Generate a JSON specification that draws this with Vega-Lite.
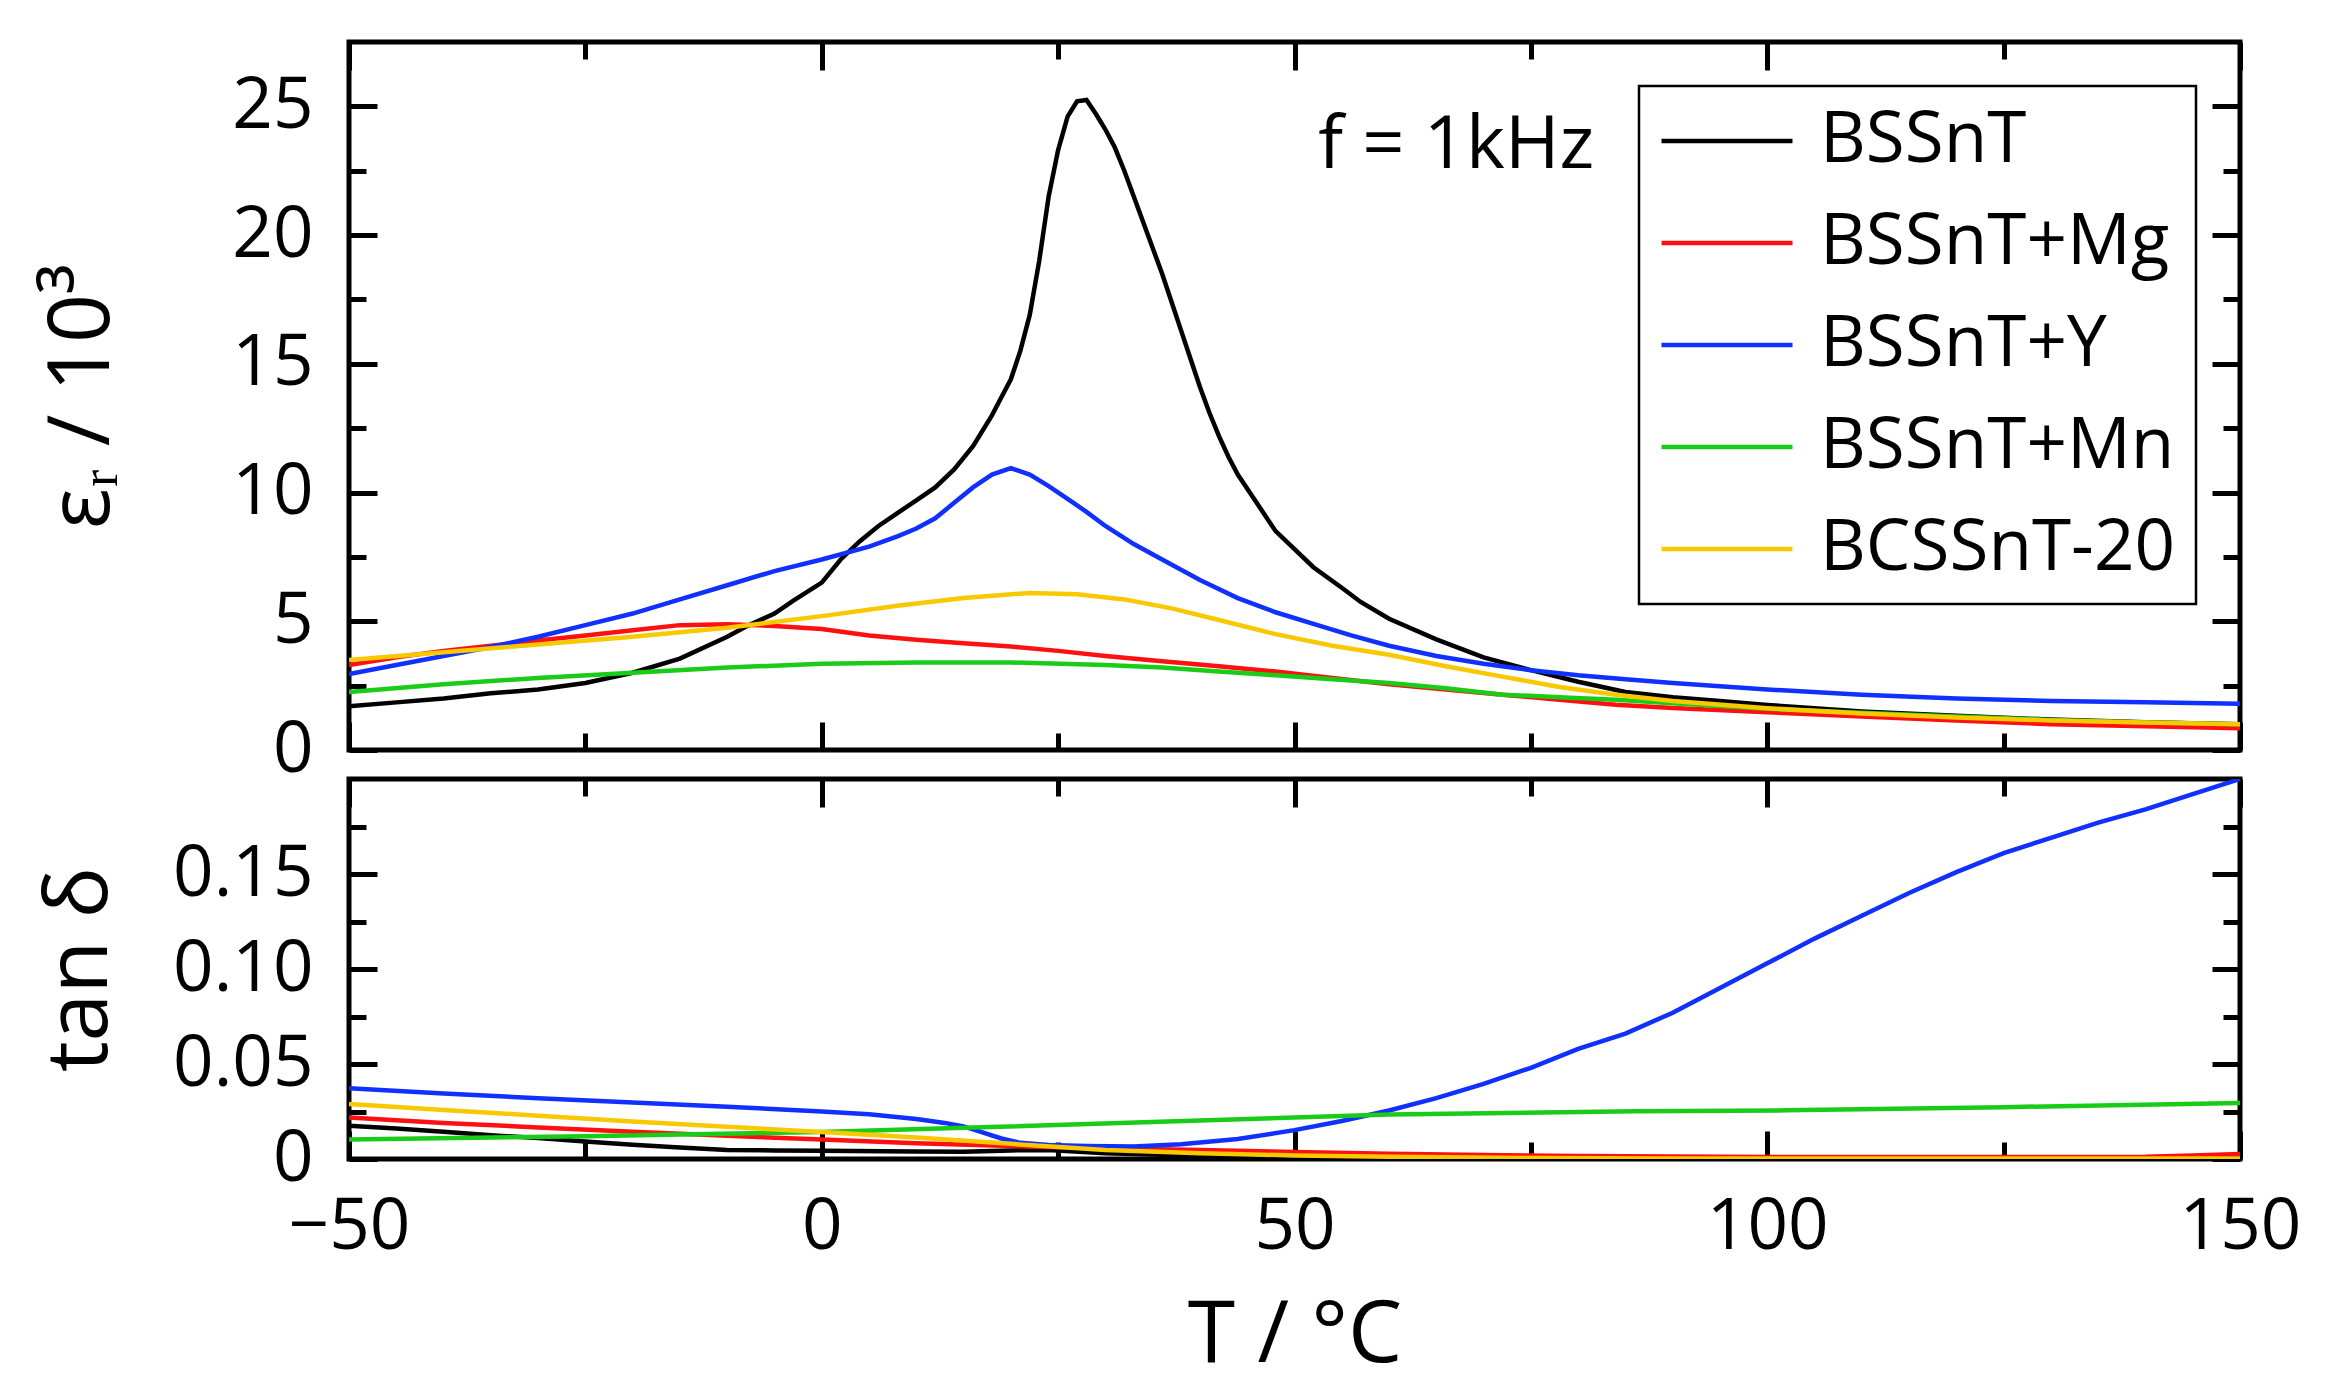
{
  "$schema": "https://vega.github.io/schema/vega-lite/v6.json",
  "autosize": {"type": "none"},
  "padding": {"left": 349, "top": 42, "right": 1986, "bottom": 1355},
  "datasets": {
    "eps": [
      {"T": -50, "series": "BSSnT", "v": 1.7}, {"T": -45, "series": "BSSnT", "v": 1.85}, {"T": -40, "series": "BSSnT", "v": 2.0},
      {"T": -35, "series": "BSSnT", "v": 2.2}, {"T": -30, "series": "BSSnT", "v": 2.35}, {"T": -25, "series": "BSSnT", "v": 2.6},
      {"T": -20, "series": "BSSnT", "v": 3.0}, {"T": -15, "series": "BSSnT", "v": 3.55}, {"T": -10, "series": "BSSnT", "v": 4.4},
      {"T": -8, "series": "BSSnT", "v": 4.8}, {"T": -5, "series": "BSSnT", "v": 5.3}, {"T": -3, "series": "BSSnT", "v": 5.8},
      {"T": 0, "series": "BSSnT", "v": 6.5}, {"T": 2, "series": "BSSnT", "v": 7.4}, {"T": 4, "series": "BSSnT", "v": 8.1},
      {"T": 6, "series": "BSSnT", "v": 8.7}, {"T": 8, "series": "BSSnT", "v": 9.2}, {"T": 10, "series": "BSSnT", "v": 9.7},
      {"T": 12, "series": "BSSnT", "v": 10.2}, {"T": 14, "series": "BSSnT", "v": 10.9}, {"T": 16, "series": "BSSnT", "v": 11.8},
      {"T": 18, "series": "BSSnT", "v": 13.0}, {"T": 19, "series": "BSSnT", "v": 13.7}, {"T": 20, "series": "BSSnT", "v": 14.4},
      {"T": 21, "series": "BSSnT", "v": 15.5}, {"T": 22, "series": "BSSnT", "v": 16.9}, {"T": 23, "series": "BSSnT", "v": 19.0},
      {"T": 24, "series": "BSSnT", "v": 21.5}, {"T": 25, "series": "BSSnT", "v": 23.3}, {"T": 26, "series": "BSSnT", "v": 24.6},
      {"T": 27, "series": "BSSnT", "v": 25.2}, {"T": 28, "series": "BSSnT", "v": 25.25}, {"T": 29, "series": "BSSnT", "v": 24.7},
      {"T": 30, "series": "BSSnT", "v": 24.1}, {"T": 31, "series": "BSSnT", "v": 23.4}, {"T": 32, "series": "BSSnT", "v": 22.5},
      {"T": 33, "series": "BSSnT", "v": 21.5}, {"T": 34, "series": "BSSnT", "v": 20.5}, {"T": 35, "series": "BSSnT", "v": 19.5},
      {"T": 36, "series": "BSSnT", "v": 18.5}, {"T": 37, "series": "BSSnT", "v": 17.4}, {"T": 38, "series": "BSSnT", "v": 16.3},
      {"T": 39, "series": "BSSnT", "v": 15.2}, {"T": 40, "series": "BSSnT", "v": 14.1}, {"T": 41, "series": "BSSnT", "v": 13.1},
      {"T": 42, "series": "BSSnT", "v": 12.2}, {"T": 43, "series": "BSSnT", "v": 11.4}, {"T": 44, "series": "BSSnT", "v": 10.7},
      {"T": 46, "series": "BSSnT", "v": 9.6}, {"T": 48, "series": "BSSnT", "v": 8.5}, {"T": 50, "series": "BSSnT", "v": 7.8},
      {"T": 52, "series": "BSSnT", "v": 7.1}, {"T": 55, "series": "BSSnT", "v": 6.3}, {"T": 57, "series": "BSSnT", "v": 5.75},
      {"T": 60, "series": "BSSnT", "v": 5.1}, {"T": 65, "series": "BSSnT", "v": 4.3}, {"T": 70, "series": "BSSnT", "v": 3.6},
      {"T": 75, "series": "BSSnT", "v": 3.1}, {"T": 80, "series": "BSSnT", "v": 2.65}, {"T": 85, "series": "BSSnT", "v": 2.25},
      {"T": 90, "series": "BSSnT", "v": 2.05}, {"T": 95, "series": "BSSnT", "v": 1.9}, {"T": 100, "series": "BSSnT", "v": 1.75},
      {"T": 110, "series": "BSSnT", "v": 1.5}, {"T": 120, "series": "BSSnT", "v": 1.33}, {"T": 130, "series": "BSSnT", "v": 1.18},
      {"T": 140, "series": "BSSnT", "v": 1.08}, {"T": 150, "series": "BSSnT", "v": 1.0},

      {"T": -50, "series": "BSSnT+Mg", "v": 3.3}, {"T": -45, "series": "BSSnT+Mg", "v": 3.6}, {"T": -40, "series": "BSSnT+Mg", "v": 3.85},
      {"T": -35, "series": "BSSnT+Mg", "v": 4.05}, {"T": -30, "series": "BSSnT+Mg", "v": 4.25}, {"T": -25, "series": "BSSnT+Mg", "v": 4.45},
      {"T": -20, "series": "BSSnT+Mg", "v": 4.65}, {"T": -15, "series": "BSSnT+Mg", "v": 4.85}, {"T": -10, "series": "BSSnT+Mg", "v": 4.88},
      {"T": -5, "series": "BSSnT+Mg", "v": 4.82}, {"T": 0, "series": "BSSnT+Mg", "v": 4.7}, {"T": 5, "series": "BSSnT+Mg", "v": 4.45},
      {"T": 10, "series": "BSSnT+Mg", "v": 4.28}, {"T": 15, "series": "BSSnT+Mg", "v": 4.15}, {"T": 20, "series": "BSSnT+Mg", "v": 4.02},
      {"T": 25, "series": "BSSnT+Mg", "v": 3.85}, {"T": 30, "series": "BSSnT+Mg", "v": 3.65}, {"T": 36, "series": "BSSnT+Mg", "v": 3.45},
      {"T": 42, "series": "BSSnT+Mg", "v": 3.25}, {"T": 48, "series": "BSSnT+Mg", "v": 3.05}, {"T": 54, "series": "BSSnT+Mg", "v": 2.8},
      {"T": 60, "series": "BSSnT+Mg", "v": 2.55}, {"T": 66, "series": "BSSnT+Mg", "v": 2.35}, {"T": 72, "series": "BSSnT+Mg", "v": 2.15},
      {"T": 78, "series": "BSSnT+Mg", "v": 1.95}, {"T": 84, "series": "BSSnT+Mg", "v": 1.76}, {"T": 90, "series": "BSSnT+Mg", "v": 1.63},
      {"T": 100, "series": "BSSnT+Mg", "v": 1.47}, {"T": 110, "series": "BSSnT+Mg", "v": 1.3}, {"T": 120, "series": "BSSnT+Mg", "v": 1.15},
      {"T": 130, "series": "BSSnT+Mg", "v": 1.0}, {"T": 140, "series": "BSSnT+Mg", "v": 0.92}, {"T": 150, "series": "BSSnT+Mg", "v": 0.84},

      {"T": -50, "series": "BSSnT+Y", "v": 2.95}, {"T": -45, "series": "BSSnT+Y", "v": 3.3}, {"T": -40, "series": "BSSnT+Y", "v": 3.65},
      {"T": -35, "series": "BSSnT+Y", "v": 4.0}, {"T": -30, "series": "BSSnT+Y", "v": 4.4}, {"T": -25, "series": "BSSnT+Y", "v": 4.85},
      {"T": -20, "series": "BSSnT+Y", "v": 5.3}, {"T": -15, "series": "BSSnT+Y", "v": 5.85}, {"T": -10, "series": "BSSnT+Y", "v": 6.4},
      {"T": -5, "series": "BSSnT+Y", "v": 6.95}, {"T": 0, "series": "BSSnT+Y", "v": 7.4}, {"T": 5, "series": "BSSnT+Y", "v": 7.9},
      {"T": 8, "series": "BSSnT+Y", "v": 8.3}, {"T": 10, "series": "BSSnT+Y", "v": 8.6}, {"T": 12, "series": "BSSnT+Y", "v": 9.0},
      {"T": 14, "series": "BSSnT+Y", "v": 9.6}, {"T": 16, "series": "BSSnT+Y", "v": 10.2}, {"T": 18, "series": "BSSnT+Y", "v": 10.7},
      {"T": 20, "series": "BSSnT+Y", "v": 10.95}, {"T": 22, "series": "BSSnT+Y", "v": 10.7}, {"T": 24, "series": "BSSnT+Y", "v": 10.25},
      {"T": 26, "series": "BSSnT+Y", "v": 9.75}, {"T": 28, "series": "BSSnT+Y", "v": 9.25}, {"T": 30, "series": "BSSnT+Y", "v": 8.7},
      {"T": 33, "series": "BSSnT+Y", "v": 8.0}, {"T": 36, "series": "BSSnT+Y", "v": 7.4}, {"T": 40, "series": "BSSnT+Y", "v": 6.6},
      {"T": 44, "series": "BSSnT+Y", "v": 5.9}, {"T": 48, "series": "BSSnT+Y", "v": 5.35}, {"T": 52, "series": "BSSnT+Y", "v": 4.9},
      {"T": 56, "series": "BSSnT+Y", "v": 4.45}, {"T": 60, "series": "BSSnT+Y", "v": 4.05}, {"T": 65, "series": "BSSnT+Y", "v": 3.65},
      {"T": 70, "series": "BSSnT+Y", "v": 3.35}, {"T": 75, "series": "BSSnT+Y", "v": 3.1}, {"T": 80, "series": "BSSnT+Y", "v": 2.9},
      {"T": 85, "series": "BSSnT+Y", "v": 2.75}, {"T": 90, "series": "BSSnT+Y", "v": 2.6}, {"T": 100, "series": "BSSnT+Y", "v": 2.35},
      {"T": 110, "series": "BSSnT+Y", "v": 2.15}, {"T": 120, "series": "BSSnT+Y", "v": 2.0}, {"T": 130, "series": "BSSnT+Y", "v": 1.9},
      {"T": 140, "series": "BSSnT+Y", "v": 1.85}, {"T": 150, "series": "BSSnT+Y", "v": 1.8},

      {"T": -50, "series": "BSSnT+Mn", "v": 2.25}, {"T": -40, "series": "BSSnT+Mn", "v": 2.55}, {"T": -30, "series": "BSSnT+Mn", "v": 2.8},
      {"T": -20, "series": "BSSnT+Mn", "v": 3.0}, {"T": -10, "series": "BSSnT+Mn", "v": 3.2}, {"T": 0, "series": "BSSnT+Mn", "v": 3.35},
      {"T": 10, "series": "BSSnT+Mn", "v": 3.4}, {"T": 20, "series": "BSSnT+Mn", "v": 3.4}, {"T": 30, "series": "BSSnT+Mn", "v": 3.3},
      {"T": 36, "series": "BSSnT+Mn", "v": 3.2}, {"T": 42, "series": "BSSnT+Mn", "v": 3.05}, {"T": 48, "series": "BSSnT+Mn", "v": 2.9},
      {"T": 54, "series": "BSSnT+Mn", "v": 2.75}, {"T": 60, "series": "BSSnT+Mn", "v": 2.6}, {"T": 66, "series": "BSSnT+Mn", "v": 2.4},
      {"T": 72, "series": "BSSnT+Mn", "v": 2.15}, {"T": 78, "series": "BSSnT+Mn", "v": 2.05}, {"T": 84, "series": "BSSnT+Mn", "v": 1.95},
      {"T": 90, "series": "BSSnT+Mn", "v": 1.82}, {"T": 100, "series": "BSSnT+Mn", "v": 1.6}, {"T": 110, "series": "BSSnT+Mn", "v": 1.45},
      {"T": 120, "series": "BSSnT+Mn", "v": 1.3}, {"T": 130, "series": "BSSnT+Mn", "v": 1.17}, {"T": 140, "series": "BSSnT+Mn", "v": 1.07},
      {"T": 150, "series": "BSSnT+Mn", "v": 1.0},

      {"T": -50, "series": "BCSSnT-20", "v": 3.5}, {"T": -40, "series": "BCSSnT-20", "v": 3.8}, {"T": -30, "series": "BCSSnT-20", "v": 4.1},
      {"T": -20, "series": "BCSSnT-20", "v": 4.4}, {"T": -10, "series": "BCSSnT-20", "v": 4.75}, {"T": 0, "series": "BCSSnT-20", "v": 5.2},
      {"T": 8, "series": "BCSSnT-20", "v": 5.6}, {"T": 15, "series": "BCSSnT-20", "v": 5.9}, {"T": 22, "series": "BCSSnT-20", "v": 6.1},
      {"T": 27, "series": "BCSSnT-20", "v": 6.05}, {"T": 32, "series": "BCSSnT-20", "v": 5.85}, {"T": 37, "series": "BCSSnT-20", "v": 5.5},
      {"T": 42, "series": "BCSSnT-20", "v": 5.05}, {"T": 48, "series": "BCSSnT-20", "v": 4.5}, {"T": 54, "series": "BCSSnT-20", "v": 4.05},
      {"T": 60, "series": "BCSSnT-20", "v": 3.7}, {"T": 66, "series": "BCSSnT-20", "v": 3.25}, {"T": 72, "series": "BCSSnT-20", "v": 2.85},
      {"T": 78, "series": "BCSSnT-20", "v": 2.45}, {"T": 84, "series": "BCSSnT-20", "v": 2.15}, {"T": 90, "series": "BCSSnT-20", "v": 1.9},
      {"T": 100, "series": "BCSSnT-20", "v": 1.62}, {"T": 110, "series": "BCSSnT-20", "v": 1.42}, {"T": 120, "series": "BCSSnT-20", "v": 1.26},
      {"T": 130, "series": "BCSSnT-20", "v": 1.15}, {"T": 140, "series": "BCSSnT-20", "v": 1.07}, {"T": 150, "series": "BCSSnT-20", "v": 1.0}
    ],
    "tan": [
      {"T": -50, "series": "BSSnT", "v": 0.0175}, {"T": -45, "series": "BSSnT", "v": 0.016}, {"T": -40, "series": "BSSnT", "v": 0.0143},
      {"T": -35, "series": "BSSnT", "v": 0.0125}, {"T": -30, "series": "BSSnT", "v": 0.011}, {"T": -25, "series": "BSSnT", "v": 0.0092},
      {"T": -20, "series": "BSSnT", "v": 0.0075}, {"T": -15, "series": "BSSnT", "v": 0.006}, {"T": -10, "series": "BSSnT", "v": 0.0048},
      {"T": -5, "series": "BSSnT", "v": 0.0045}, {"T": 0, "series": "BSSnT", "v": 0.0044}, {"T": 10, "series": "BSSnT", "v": 0.004},
      {"T": 15, "series": "BSSnT", "v": 0.0038}, {"T": 20, "series": "BSSnT", "v": 0.0045}, {"T": 24, "series": "BSSnT", "v": 0.0048},
      {"T": 30, "series": "BSSnT", "v": 0.003}, {"T": 40, "series": "BSSnT", "v": 0.0017}, {"T": 50, "series": "BSSnT", "v": 0.0009},
      {"T": 60, "series": "BSSnT", "v": 0.0005}, {"T": 70, "series": "BSSnT", "v": 0.0003}, {"T": 150, "series": "BSSnT", "v": 0.0003},

      {"T": -50, "series": "BSSnT+Mg", "v": 0.0219}, {"T": -40, "series": "BSSnT+Mg", "v": 0.019}, {"T": -30, "series": "BSSnT+Mg", "v": 0.0166},
      {"T": -20, "series": "BSSnT+Mg", "v": 0.0143}, {"T": -10, "series": "BSSnT+Mg", "v": 0.0122}, {"T": 0, "series": "BSSnT+Mg", "v": 0.0103},
      {"T": 10, "series": "BSSnT+Mg", "v": 0.0083}, {"T": 20, "series": "BSSnT+Mg", "v": 0.0068}, {"T": 30, "series": "BSSnT+Mg", "v": 0.0057},
      {"T": 40, "series": "BSSnT+Mg", "v": 0.0048}, {"T": 50, "series": "BSSnT+Mg", "v": 0.0037}, {"T": 60, "series": "BSSnT+Mg", "v": 0.0028},
      {"T": 70, "series": "BSSnT+Mg", "v": 0.0021}, {"T": 80, "series": "BSSnT+Mg", "v": 0.0016}, {"T": 90, "series": "BSSnT+Mg", "v": 0.0013},
      {"T": 100, "series": "BSSnT+Mg", "v": 0.0011}, {"T": 120, "series": "BSSnT+Mg", "v": 0.001}, {"T": 140, "series": "BSSnT+Mg", "v": 0.0012},
      {"T": 145, "series": "BSSnT+Mg", "v": 0.0018}, {"T": 150, "series": "BSSnT+Mg", "v": 0.0026},

      {"T": -50, "series": "BSSnT+Y", "v": 0.0372}, {"T": -40, "series": "BSSnT+Y", "v": 0.0345}, {"T": -30, "series": "BSSnT+Y", "v": 0.032},
      {"T": -20, "series": "BSSnT+Y", "v": 0.0298}, {"T": -10, "series": "BSSnT+Y", "v": 0.0275}, {"T": 0, "series": "BSSnT+Y", "v": 0.025},
      {"T": 5, "series": "BSSnT+Y", "v": 0.0235}, {"T": 10, "series": "BSSnT+Y", "v": 0.021}, {"T": 13, "series": "BSSnT+Y", "v": 0.019},
      {"T": 15, "series": "BSSnT+Y", "v": 0.0172}, {"T": 17, "series": "BSSnT+Y", "v": 0.014}, {"T": 19, "series": "BSSnT+Y", "v": 0.0108},
      {"T": 21, "series": "BSSnT+Y", "v": 0.0085}, {"T": 24, "series": "BSSnT+Y", "v": 0.0074}, {"T": 28, "series": "BSSnT+Y", "v": 0.0068},
      {"T": 33, "series": "BSSnT+Y", "v": 0.0066}, {"T": 38, "series": "BSSnT+Y", "v": 0.0078}, {"T": 44, "series": "BSSnT+Y", "v": 0.0105},
      {"T": 50, "series": "BSSnT+Y", "v": 0.0152}, {"T": 55, "series": "BSSnT+Y", "v": 0.02}, {"T": 60, "series": "BSSnT+Y", "v": 0.0255},
      {"T": 65, "series": "BSSnT+Y", "v": 0.032}, {"T": 70, "series": "BSSnT+Y", "v": 0.0395}, {"T": 75, "series": "BSSnT+Y", "v": 0.048},
      {"T": 80, "series": "BSSnT+Y", "v": 0.058}, {"T": 85, "series": "BSSnT+Y", "v": 0.066}, {"T": 90, "series": "BSSnT+Y", "v": 0.077},
      {"T": 95, "series": "BSSnT+Y", "v": 0.09}, {"T": 100, "series": "BSSnT+Y", "v": 0.103}, {"T": 105, "series": "BSSnT+Y", "v": 0.116},
      {"T": 110, "series": "BSSnT+Y", "v": 0.128}, {"T": 115, "series": "BSSnT+Y", "v": 0.14}, {"T": 120, "series": "BSSnT+Y", "v": 0.151},
      {"T": 125, "series": "BSSnT+Y", "v": 0.161}, {"T": 130, "series": "BSSnT+Y", "v": 0.169}, {"T": 135, "series": "BSSnT+Y", "v": 0.177},
      {"T": 140, "series": "BSSnT+Y", "v": 0.184}, {"T": 145, "series": "BSSnT+Y", "v": 0.192}, {"T": 150, "series": "BSSnT+Y", "v": 0.2},

      {"T": -50, "series": "BSSnT+Mn", "v": 0.0103}, {"T": -25, "series": "BSSnT+Mn", "v": 0.012}, {"T": 0, "series": "BSSnT+Mn", "v": 0.0142},
      {"T": 15, "series": "BSSnT+Mn", "v": 0.0164}, {"T": 40, "series": "BSSnT+Mn", "v": 0.0203}, {"T": 60, "series": "BSSnT+Mn", "v": 0.0234},
      {"T": 86, "series": "BSSnT+Mn", "v": 0.0251}, {"T": 102, "series": "BSSnT+Mn", "v": 0.0256}, {"T": 125, "series": "BSSnT+Mn", "v": 0.0273},
      {"T": 150, "series": "BSSnT+Mn", "v": 0.0295},

      {"T": -50, "series": "BCSSnT-20", "v": 0.029}, {"T": -40, "series": "BCSSnT-20", "v": 0.0258}, {"T": -30, "series": "BCSSnT-20", "v": 0.0228},
      {"T": -20, "series": "BCSSnT-20", "v": 0.0198}, {"T": -10, "series": "BCSSnT-20", "v": 0.017}, {"T": 0, "series": "BCSSnT-20", "v": 0.0142},
      {"T": 10, "series": "BCSSnT-20", "v": 0.0113}, {"T": 20, "series": "BCSSnT-20", "v": 0.008}, {"T": 30, "series": "BCSSnT-20", "v": 0.0048},
      {"T": 40, "series": "BCSSnT-20", "v": 0.003}, {"T": 50, "series": "BCSSnT-20", "v": 0.0019}, {"T": 60, "series": "BCSSnT-20", "v": 0.0012},
      {"T": 75, "series": "BCSSnT-20", "v": 0.0005}, {"T": 90, "series": "BCSSnT-20", "v": 0.0003}, {"T": 150, "series": "BCSSnT-20", "v": 0.0003}
    ],
    "note": [{"T": 52.5, "v": 22.6, "text": "f = 1kHz"}]
  },
  "spacing": 29,
  "bounds": "flush",
  "resolve": {
    "scale": {"x": "independent", "y": "independent", "color": "independent"},
    "legend": {"color": "independent"}
  },
  "vconcat": [
    {
      "width": 1891,
      "height": 708,
      "data": {"name": "eps"},
      "layer": [
        {
          "mark": {"type": "line", "strokeWidth": 4.5, "clip": true},
          "encoding": {
            "x": {
              "field": "T", "type": "quantitative",
              "scale": {"domain": [-50, 150], "nice": false, "zero": false},
              "axis": {
                "orient": "bottom", "values": [-50, -25, 0, 25, 50, 75, 100, 125, 150],
                "labels": false, "title": null,
                "tickSize": {"condition": {"test": "datum.value % 50 === 0", "value": -28}, "value": -17}
              }
            },
            "y": {
              "field": "v", "type": "quantitative",
              "scale": {"domain": [0, 27.5], "nice": false, "zero": false},
              "axis": {
                "orient": "left", "values": [0, 2.5, 5, 7.5, 10, 12.5, 15, 17.5, 20, 22.5, 25],
                "labelExpr": "datum.value % 5 === 0 ? datum.label : ''",
                "labelPadding": 64,
                "title": "ε\u1d63 / 10³", "titlePadding": 105,
                "tickSize": {"condition": {"test": "datum.value % 5 === 0", "value": -28}, "value": -17}
              }
            },
            "color": {
              "field": "series", "type": "nominal",
              "scale": {
                "domain": ["BSSnT", "BSSnT+Mg", "BSSnT+Y", "BSSnT+Mn", "BCSSnT-20"],
                "range": ["#000000", "#ff1010", "#1030ff", "#18cc18", "#f8c800"]
              },
              "legend": {
                "title": null, "orient": "top-right", "offset": 44,
                "symbolType": "stroke", "symbolSize": 17161, "symbolStrokeWidth": 4.5,
                "clipHeight": 70, "rowPadding": 31, "padding": 20, "labelOffset": 25,
                "labelFontSize": 71, "labelFont": "Open Sans", "labelColor": "black", "labelLimit": 0,
                "strokeColor": "black", "fillColor": "white"
              }
            }
          }
        },
        {
          "mark": {"type": "point", "opacity": 0},
          "encoding": {
            "x": {
              "field": "T", "type": "quantitative",
              "axis": {
                "orient": "top", "values": [-50, -25, 0, 25, 50, 75, 100, 125, 150],
                "labels": false, "title": null,
                "tickSize": {"condition": {"test": "datum.value % 50 === 0", "value": -28}, "value": -17}
              }
            },
            "y": {
              "field": "v", "type": "quantitative",
              "axis": {
                "orient": "right", "values": [0, 2.5, 5, 7.5, 10, 12.5, 15, 17.5, 20, 22.5, 25],
                "labels": false, "title": null,
                "tickSize": {"condition": {"test": "datum.value % 5 === 0", "value": -28}, "value": -17}
              }
            }
          }
        },
        {
          "data": {"name": "note"},
          "mark": {"type": "text", "align": "left", "baseline": "alphabetic", "fontSize": 74, "font": "Open Sans", "color": "black"},
          "encoding": {
            "x": {"field": "T", "type": "quantitative", "axis": null},
            "y": {"field": "v", "type": "quantitative", "axis": null},
            "text": {"field": "text"}
          }
        }
      ]
    },
    {
      "width": 1891,
      "height": 380,
      "data": {"name": "tan"},
      "layer": [
        {
          "mark": {"type": "line", "strokeWidth": 4.5, "clip": true},
          "encoding": {
            "x": {
              "field": "T", "type": "quantitative",
              "scale": {"domain": [-50, 150], "nice": false, "zero": false},
              "axis": {
                "orient": "bottom", "values": [-50, -25, 0, 25, 50, 75, 100, 125, 150],
                "labelExpr": "datum.value % 50 === 0 ? datum.label : ''",
                "labelPadding": 61,
                "title": "T / °C", "titlePadding": 20,
                "tickSize": {"condition": {"test": "datum.value % 50 === 0", "value": -28}, "value": -17}
              }
            },
            "y": {
              "field": "v", "type": "quantitative",
              "scale": {"domain": [0, 0.2], "nice": false, "zero": false},
              "axis": {
                "orient": "left", "values": [0, 0.025, 0.05, 0.075, 0.1, 0.125, 0.15, 0.175],
                "labelExpr": "round(datum.value * 1000) % 50 === 0 ? (datum.value === 0 ? '0' : format(datum.value, '.2f')) : ''",
                "labelPadding": 64,
                "title": "tan δ", "titlePadding": 48,
                "tickSize": {"condition": {"test": "round(datum.value * 1000) % 50 === 0", "value": -28}, "value": -17}
              }
            },
            "color": {
              "field": "series", "type": "nominal",
              "scale": {
                "domain": ["BSSnT", "BSSnT+Mg", "BSSnT+Y", "BSSnT+Mn", "BCSSnT-20"],
                "range": ["#000000", "#ff1010", "#1030ff", "#18cc18", "#f8c800"]
              },
              "legend": null
            }
          }
        },
        {
          "mark": {"type": "point", "opacity": 0},
          "encoding": {
            "x": {
              "field": "T", "type": "quantitative",
              "axis": {
                "orient": "top", "values": [-50, -25, 0, 25, 50, 75, 100, 125, 150],
                "labels": false, "title": null,
                "tickSize": {"condition": {"test": "datum.value % 50 === 0", "value": -28}, "value": -17}
              }
            },
            "y": {
              "field": "v", "type": "quantitative",
              "axis": {
                "orient": "right", "values": [0, 0.025, 0.05, 0.075, 0.1, 0.125, 0.15, 0.175],
                "labels": false, "title": null,
                "tickSize": {"condition": {"test": "round(datum.value * 1000) % 50 === 0", "value": -28}, "value": -17}
              }
            }
          }
        }
      ]
    }
  ],
  "config": {
    "font": "Open Sans",
    "view": {"stroke": "black", "strokeWidth": 5},
    "axis": {
      "domain": false, "grid": false,
      "tickColor": "black", "tickWidth": 5,
      "labelFont": "Open Sans", "labelFontSize": 71, "labelColor": "black",
      "labelFlush": false, "labelOverlap": false, "labelBound": false,
      "titleFont": "Open Sans", "titleFontSize": 86, "titleFontWeight": "normal", "titleColor": "black"
    },
    "legend": {"strokeWidth": 2.5}
  }
}
